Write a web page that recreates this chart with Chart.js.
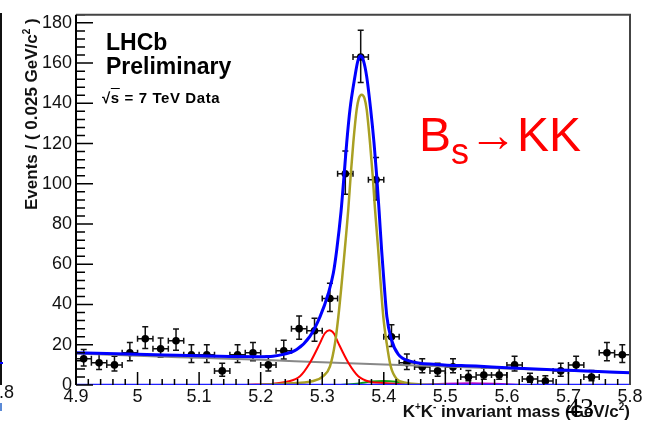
<!DOCTYPE html>
<html>
<head>
<meta charset="utf-8">
<script src="https://cdn.jsdelivr.net/npm/chart.js@4.4.1/dist/chart.umd.min.js"></script>
<style>
  body { margin: 0; background: #fff; }
  #wrap { position: relative; width: 656px; height: 422px; overflow: hidden; font-family: 'Liberation Sans', Arial, sans-serif; }
  #wrap canvas { position: absolute; left: 0; top: 0; }
  .txt { position: absolute; white-space: nowrap; line-height: 1; color: #000; }
  .b { font-weight: bold; }
  .axt { font-weight: bold; font-size: 17px; line-height: 20px; color: #111; }
  .axt sup { font-size: 10px; line-height: 0; vertical-align: 7px; }
</style>
</head>
<body>
<div id="wrap">
  <canvas id="massChart" width="656" height="422"></canvas>

  <!-- edge of the neighbouring plot -->
  <div style="position:absolute;left:0;top:13px;width:2px;height:372px;background:#111"></div>
  <div style="position:absolute;left:0;top:362px;width:3px;height:2px;background:#00f"></div>
  <div style="position:absolute;left:0;top:403px;width:2px;height:8px;background:#5b8ad6"></div>
  <div class="txt" style="left:-11px;top:383px;font-size:18px;color:#111">5.8</div>

  <div class="txt b" style="left:106px;top:31px;font-size:23px">LHCb</div>
  <div class="txt b" style="left:106px;top:55px;font-size:23px">Preliminary</div>
  <div class="txt b" style="left:102px;top:90px;font-size:15px;letter-spacing:0.6px">&radic;<span style="text-decoration:overline">s</span> = 7 TeV Data</div>

  <div class="txt" style="left:419px;top:111px;font-size:48px;color:#f00">B<span style="font-size:36px;position:relative;top:13px">s</span>&rarr;KK</div>

  <div class="txt axt" style="left:22px;top:210px;transform-origin:0 0;transform:rotate(-90deg)">Events / ( 0.025 GeV/c<sup>2</sup> )</div>
  <div class="txt axt" style="right:26px;top:402px">K<sup>+</sup>K<sup>-</sup> invariant mass (GeV/c<sup>2</sup>)</div>

  <div class="txt" style="left:566px;top:394px;font-size:28px;font-family:'Liberation Serif',serif">43</div>
</div>

<script>
// K+K- mass spectrum, 0.025 GeV/c^2 bins
const binCentres = [4.9125, 4.9375, 4.9625, 4.9875, 5.0125, 5.0375, 5.0625, 5.0875, 5.1125, 5.1375, 5.1625, 5.1875,
                    5.2125, 5.2375, 5.2625, 5.2875, 5.3125, 5.3375, 5.3625, 5.3875, 5.4125, 5.4375, 5.4625, 5.4875,
                    5.5125, 5.5375, 5.5625, 5.5875, 5.6125, 5.6375, 5.6625, 5.6875, 5.7125, 5.7375, 5.7625, 5.7875];
const counts = [13, 11, 10, 16, 23, 18, 22, 15, 15, 7, 15, 16,
                10, 17, 28, 27, 43, 105, 163, 102, 24, 11, 9, 7,
                9, 4, 5, 5, 10, 3, 2, 7, 10, 4, 16, 15];
const errLow = [3.6, 3.3, 3.1, 4.0, 4.8, 4.2, 4.7, 3.8, 3.8, 2.6, 3.8, 4.0,
                3.1, 4.1, 5.3, 5.2, 6.5, 10.2, 12.6, 10.1, 4.9, 3.3, 2.9, 2.6,
                2.9, 1.9, 2.2, 2.2, 3.1, 1.6, 1.3, 2.6, 3.1, 1.9, 4.0, 3.8];
const errHigh = [4.7, 4.4, 4.3, 5.1, 5.9, 5.3, 5.8, 5.0, 5.0, 3.8, 5.0, 5.1,
                 4.3, 5.2, 6.3, 6.2, 7.6, 11.3, 13.3, 11.1, 6.0, 4.4, 4.1, 3.8,
                 4.1, 3.2, 3.4, 3.4, 4.3, 2.9, 2.6, 3.8, 4.3, 3.2, 5.1, 5.0];
const binHalfWidth = 0.0125;

// fit components
const totalX = [4.90, 5.00, 5.10, 5.15, 5.20, 5.22, 5.237, 5.2585, 5.28, 5.2965, 5.31, 5.318, 5.3235, 5.3305, 5.3354,
                5.3398, 5.3451, 5.3532, 5.3578, 5.3625, 5.3672, 5.3722, 5.3787, 5.3841, 5.3885, 5.3925, 5.3965,
                5.4005, 5.405, 5.4125, 5.4236, 5.4426, 5.486, 5.55, 5.60, 5.70, 5.80];
const totalY = [16.0, 15.3, 14.5, 14.2, 14.1, 14.3, 15.2, 17.6, 24.2, 34.0, 45.6, 55.5, 67.0, 86.0, 104.0,
                120.5, 137.0, 153.4, 161.0, 163.6, 161.0, 153.4, 137.0, 120.5, 104.0, 86.0, 67.0,
                50.5, 34.0, 22.5, 15.2, 11.9, 10.2, 9.4, 8.6, 7.3, 6.1];

const bsKKX = [5.20, 5.2585, 5.2855, 5.3017, 5.3126, 5.3208, 5.3262, 5.3316, 5.3354, 5.3424, 5.3462, 5.3505, 5.356,
               5.3595, 5.3641, 5.3687, 5.3722, 5.3776, 5.382, 5.3857, 5.391, 5.3949, 5.3992, 5.4047, 5.4112, 5.421,
               5.4372, 5.46, 5.50];
const bsKKY = [0.2, 1.0, 2.0, 4.4, 9.3, 20.8, 34.0, 50.5, 63.0, 87.6, 104.0, 120.5, 137.0,
               142.5, 144.3, 142.5, 137.0, 120.5, 104.0, 87.6, 67.0, 50.5, 34.0, 20.8, 9.3, 3.0,
               1.0, 0.3, 0.1];

const bdKPiX = [5.18, 5.2152, 5.2423, 5.2639, 5.2801, 5.2964, 5.304, 5.3115, 5.319, 5.3262, 5.3424, 5.3586, 5.3776, 5.3992, 5.43, 5.46];
const bdKPiY = [0.1, 0.5, 1.6, 4.4, 11.1, 20.8, 25.6, 27.2, 25.6, 20.8, 11.1, 4.4, 1.6, 1.0, 0.4, 0.0];

const bdKKX = [5.33, 5.36, 5.38, 5.40, 5.42, 5.44, 5.46];
const bdKKY = [0.0, 0.8, 1.7, 2.0, 1.6, 0.6, 0.0];

const lbX = [5.46, 5.50, 5.54, 5.58, 5.62];
const lbY = [0.0, 0.6, 0.9, 0.6, 0.0];

const combX = [4.9, 5.0, 5.1, 5.2, 5.3, 5.4, 5.5, 5.6, 5.7, 5.8];
const combY = [15.6, 14.5, 13.5, 12.5, 11.3, 10.2, 9.2, 8.2, 7.1, 6.0];

const threeBodyX = [4.9, 5.8];
const threeBodyY = [0, 0];

const xTicks = [4.9, 5, 5.1, 5.2, 5.3, 5.4, 5.5, 5.6, 5.7, 5.8];
const yTicks = [0, 20, 40, 60, 80, 100, 120, 140, 160, 180];

function pairs(xs, ys) {
    return xs.map((v, i) => ({ x: v, y: ys[i] }));
}

function curve(xs, ys, colour, width) {
    return {
        data: pairs(xs, ys),
        showLine: true,
        borderColor: colour,
        borderWidth: width,
        pointRadius: 0,
        cubicInterpolationMode: 'monotone',
        fill: false
    };
}

// error bars with end caps, drawn under the markers
const errorBars = {
    id: 'errorBars',
    beforeDatasetsDraw(chart) {
        const { ctx, scales: { x, y } } = chart;
        ctx.save();
        ctx.strokeStyle = '#111';
        ctx.lineWidth = 1.5;
        ctx.beginPath();
        binCentres.forEach((c, i) => {
            const px = x.getPixelForValue(c);
            const py = y.getPixelForValue(counts[i]);
            const top = y.getPixelForValue(counts[i] + errHigh[i]);
            const bot = y.getPixelForValue(Math.max(0, counts[i] - errLow[i]));
            const l = x.getPixelForValue(c - binHalfWidth);
            const r = x.getPixelForValue(c + binHalfWidth);
            ctx.moveTo(px, top); ctx.lineTo(px, bot);
            ctx.moveTo(px - 3, top); ctx.lineTo(px + 3, top);
            ctx.moveTo(px - 3, bot); ctx.lineTo(px + 3, bot);
            ctx.moveTo(l, py); ctx.lineTo(r, py);
            ctx.moveTo(l, py - 3); ctx.lineTo(l, py + 3);
            ctx.moveTo(r, py - 3); ctx.lineTo(r, py + 3);
        });
        ctx.stroke();
        ctx.restore();
    }
};

// frame and inward tick marks
const frame = {
    id: 'frame',
    afterDatasetsDraw(chart) {
        const { ctx, chartArea: a, scales: { x, y } } = chart;
        ctx.save();
        ctx.strokeStyle = '#000';
        ctx.lineWidth = 1.5;
        ctx.beginPath();
        for (let i = 0; i <= 45; i++) {
            const px = x.getPixelForValue(4.9 + i * 0.02);
            const len = i % 5 === 0 ? 13 : 6;
            ctx.moveTo(px, a.bottom); ctx.lineTo(px, a.bottom - len);
        }
        for (let v = 0; v <= 184; v += 4) {
            const py = y.getPixelForValue(v);
            const len = v % 20 === 0 ? 17 : 9;
            ctx.moveTo(a.left, py); ctx.lineTo(a.left + len, py);
        }
        ctx.stroke();

        ctx.lineWidth = 2;
        ctx.strokeStyle = '#444';
        ctx.beginPath();
        ctx.moveTo(a.left, a.top); ctx.lineTo(a.right, a.top); ctx.lineTo(a.right, a.bottom);
        ctx.stroke();
        ctx.strokeStyle = '#000';
        ctx.beginPath();
        ctx.moveTo(a.left, a.top); ctx.lineTo(a.left, a.bottom);
        ctx.stroke();
        ctx.restore();
    }
};

const tickFont = { family: "'Liberation Sans', Arial, sans-serif", size: 18 };

new Chart(document.getElementById('massChart').getContext('2d'), {
    type: 'scatter',
    data: {
        datasets: [
            curve(totalX, totalY, '#0000ff', 3),
            curve(threeBodyX, threeBodyY, '#2020ff', 2.5),
            curve(bsKKX, bsKKY, '#a9a023', 2.5),
            curve(bdKPiX, bdKPiY, '#ff0000', 2),
            curve(bdKKX, bdKKY, '#10a010', 2),
            curve(lbX, lbY, '#c000c0', 2),
            curve(combX, combY, '#888888', 2),
            {
                data: pairs(binCentres, counts),
                pointRadius: 3.8,
                pointBackgroundColor: '#000',
                pointBorderWidth: 0,
                showLine: false
            }
        ]
    },
    options: {
        responsive: false,
        devicePixelRatio: 1,
        animation: false,
        events: [],
        layout: { padding: { top: 9, right: 26, left: 0, bottom: 0 } },
        plugins: { legend: { display: false }, tooltip: { enabled: false } },
        scales: {
            x: {
                type: 'linear',
                min: 4.9,
                max: 5.8,
                grid: { display: false, drawTicks: false },
                border: { display: false },
                afterBuildTicks: s => { s.ticks = xTicks.map(v => ({ value: v })); },
                afterFit: s => { s.height = 37; },
                ticks: { padding: 1, color: '#111', font: tickFont, maxRotation: 0, autoSkip: false, callback: v => String(v) }
            },
            y: {
                type: 'linear',
                min: 0,
                max: 184,
                grid: { display: false, drawTicks: false },
                border: { display: false },
                afterBuildTicks: s => { s.ticks = yTicks.map(v => ({ value: v })); },
                afterFit: s => { s.width = 76; },
                ticks: { padding: 4, color: '#111', font: tickFont, autoSkip: false, callback: v => String(v) }
            }
        }
    },
    plugins: [errorBars, frame]
});
</script>
</body>
</html>
